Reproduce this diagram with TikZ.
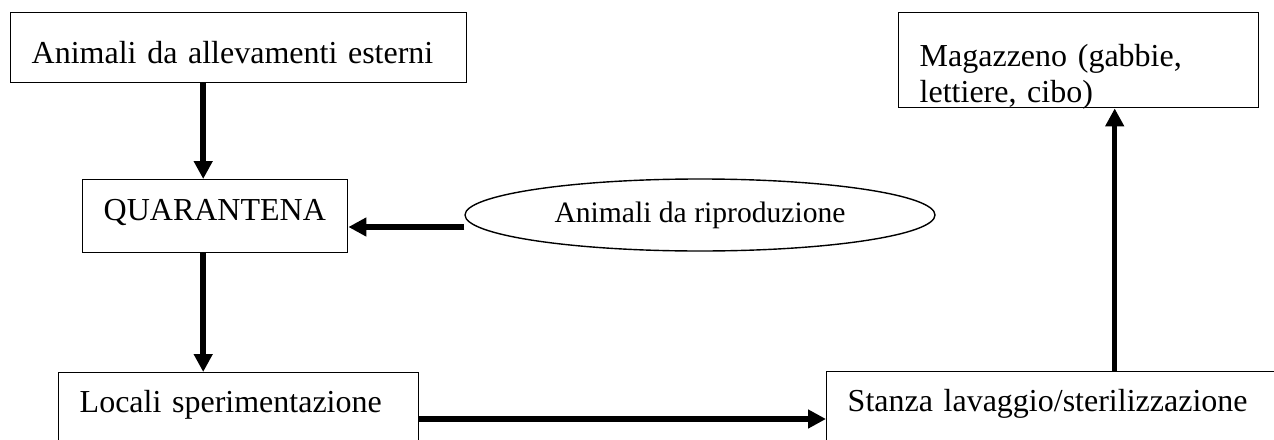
\documentclass[tikz,border=0pt]{standalone}
\usepackage{fontspec}
\setmainfont{Liberation Serif}
\usetikzlibrary{shapes.geometric,arrows.meta,positioning}
\begin{document}
\begin{tikzpicture}[
    x=1pt, y=1pt,
    box/.style={draw, line width=1.4pt, anchor=north west, align=left,
      inner ysep=0pt, inner xsep=21pt, font=\fontsize{32}{36}\selectfont},
    oval/.style={draw, ellipse, line width=1.4pt, inner sep=0pt,
      minimum width=470pt, minimum height=72pt, font=\fontsize{29.6}{34}\selectfont},
    arrow/.style={-{Triangle[length=18pt,width=18pt]}, line width=5.5pt}
  ]
  \useasboundingbox (0,0) rectangle (1274,-439);
  \node[box, text width=414pt, text height=51pt, text depth=19pt] (esterni) at (10,-12) {Animali da allevamenti esterni};
  \node[box, text width=223pt, text height=41pt, text depth=32pt] (quar) at (82,-179) {QUARANTENA};
  \node[oval] (ripro) at (700,-215) {Animali da riproduzione};
  \node[box, text width=318pt, text height=40pt, text depth=80pt] (locali) at (58,-372) {Locali sperimentazione};
  \node[box, text width=458pt, text height=40pt, text depth=80pt] (stanza) at (826,-371) {Stanza lavaggio/sterilizzazione};
  \node[box, text width=318pt, text height=54pt, text depth=41pt] (mag) at (898,-12) {Magazzeno (gabbie,\\lettiere, cibo)};
  \draw[arrow] ([xshift=-12pt]quar.north |- esterni.south) -- ([xshift=-12pt]quar.north);
  \draw[arrow] ([yshift=-12pt]ripro.west) -- ([yshift=-12pt]ripro.west -| quar.east);
  \draw[arrow] ([xshift=-12pt]quar.south) -- ([xshift=-12pt]quar.south |- locali.north);
  \draw[arrow] ([yshift=-47pt]locali.north east) -- ([yshift=-47pt]locali.north east -| stanza.west);
  \draw[arrow] ([xshift=36pt]mag.south |- stanza.north) -- ([xshift=36pt]mag.south);
\end{tikzpicture}
\end{document}
